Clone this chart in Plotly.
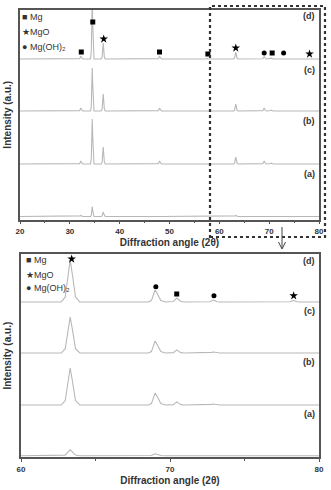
import plotly.graph_objects as go

W, H = 331, 490

# ---------------- data ----------------
# Top panel: 2theta 20-80, peak positions and heights (a.u.) per sample
top_peak_pos = [32.2, 34.5, 36.7, 48.0, 57.5, 63.3, 69.0, 70.4, 72.8, 78.2]
top_a = [1.0, 10.0, 4.5, 0.6, 0.0, 1.0, 0.6, 0.0, 0.0, 0.0]
top_b = [3.0, 45.0, 17.0, 3.0, 0.6, 7.0, 3.0, 0.8, 0.0, 0.0]
top_c = [3.0, 43.0, 17.0, 3.0, 0.6, 7.0, 3.0, 0.8, 0.0, 0.0]
top_d = [3.0, 60.0, 16.0, 3.0, 1.0, 7.0, 2.5, 1.0, 0.5, 0.5]

# Bottom panel: 2theta 60-80 (zoom)
bot_peak_pos = [63.3, 69.0, 70.45, 72.9, 78.3]
bot_a = [6.0, 2.0, 0.5, 0.0, 0.0]
bot_b = [37.0, 12.0, 3.0, 1.0, 0.5]
bot_c = [36.0, 12.0, 3.0, 1.0, 0.5]
bot_d = [42.0, 12.0, 4.0, 2.0, 1.5]

sample_labels = ["(a)", "(b)", "(c)", "(d)"]
legend_labels = ["■ Mg", "★MgO", "● Mg(OH)₂"]

# phase markers (2theta, height in panel units)
top_mg_x = [32.3, 34.6, 48.0, 57.7, 70.6]
top_mg_y = [167.5, 197.5, 167.5, 165.5, 166.5]
top_mgo_x = [36.8, 63.3, 78.1]
top_mgo_y = [180.5, 171.5, 165.5]
top_mgoh_x = [69.0, 72.9]
top_mgoh_y = [166.5, 166.5]

bot_mg_x = [70.45]
bot_mg_y = [163.3]
bot_mgo_x = [63.4, 78.3]
bot_mgo_y = [198.3, 161.6]
bot_mgoh_x = [69.05, 72.95]
bot_mgoh_y = [170.6, 161.6]

x_ticks_top = [20, 30, 40, 50, 60, 70, 80]
x_ticks_bot = [60, 70, 80]

x_title = "Diffraction angle (2θ)"
y_title = "Intensity (a.u.)"

# ---------------- styling / layout ----------------
top_offsets = [3.0, 55.5, 108.5, 160.5]
bot_offsets = [1.5, 52.3, 104.3, 155.3]
top_half_w = [0.4, 0.35, 0.4, 0.4, 0.3, 0.45, 0.5, 0.4, 0.4, 0.4]
bot_half_w = [(0.6, 0.65), (0.45, 0.7), (0.4, 0.5), (0.4, 0.45), (0.4, 0.4)]

LINE = "#b8b8b8"
AX = "#555555"
TXT = "#333333"
FONT = "Liberation Sans"

shape_off = [-1.0, -0.55, -0.25, 0.0, 0.25, 0.55, 1.0]
shape_frac = [0.0, 0.12, 0.62, 1.0, 0.62, 0.12, 0.0]


def build(xmin, xmax, pos, heights, widths, base):
    xs, ys = [xmin], [base]
    for c, h, w in zip(pos, heights, widths):
        if h <= 0:
            continue
        wl, wr = (w, w) if not isinstance(w, tuple) else w
        for o, f in zip(shape_off, shape_frac):
            xs.append(c + o * (wl if o < 0 else wr))
            ys.append(base + f * h)
    xs.append(xmax)
    ys.append(base)
    return xs, ys


fig = go.Figure()

for ints, off in zip([top_a, top_b, top_c, top_d], top_offsets):
    xs, ys = build(20, 80, top_peak_pos, ints, top_half_w, off)
    fig.add_trace(go.Scatter(x=xs, y=ys, mode="lines", line=dict(color=LINE, width=1.1),
                             xaxis="x", yaxis="y", showlegend=False, hoverinfo="skip"))

for ints, off in zip([bot_a, bot_b, bot_c, bot_d], bot_offsets):
    xs, ys = build(60, 80, bot_peak_pos, ints, bot_half_w, off)
    fig.add_trace(go.Scatter(x=xs, y=ys, mode="lines", line=dict(color=LINE, width=1.1),
                             xaxis="x2", yaxis="y2", showlegend=False, hoverinfo="skip"))


def markers(x, y, sym, size, xa, ya):
    fig.add_trace(go.Scatter(x=x, y=y, mode="markers", xaxis=xa, yaxis=ya,
                             marker=dict(symbol=sym, size=size, color="black", line=dict(width=0)),
                             showlegend=False, hoverinfo="skip", cliponaxis=False))


markers(top_mg_x, top_mg_y, "square", 5, "x", "y")
markers(top_mgo_x, top_mgo_y, "star", 6.5, "x", "y")
markers(top_mgoh_x, top_mgoh_y, "circle", 5, "x", "y")
markers(bot_mg_x, bot_mg_y, "square", 5, "x2", "y2")
markers(bot_mgo_x, bot_mgo_y, "star", 6.5, "x2", "y2")
markers(bot_mgoh_x, bot_mgoh_y, "circle", 5, "x2", "y2")


def px(x):
    return x / W


def py(y):
    return 1 - y / H


top_dom_x = [px(20), px(319)]
top_dom_y = [py(219.5), py(10)]
bot_dom_x = [px(21), px(319)]
bot_dom_y = [py(457.3), py(254)]

axis_common = dict(showline=True, mirror=True, linecolor=AX, linewidth=1.5,
                   showgrid=False, zeroline=False, automargin=False)
title_font = dict(size=10, family=FONT, color=TXT, weight="bold")
tick_font = dict(size=8, family=FONT, color=TXT, weight="bold")

fig.update_layout(
    width=W, height=H, margin=dict(l=0, r=0, t=0, b=0),
    paper_bgcolor="white", plot_bgcolor="white",
    font=dict(family=FONT, color=TXT),
    xaxis=dict(domain=top_dom_x, range=[20, 80], anchor="y",
               tickvals=x_ticks_top, ticks="outside", ticklen=3, tickcolor=AX,
               tickfont=tick_font,
               minor=dict(dtick=5, tick0=20, ticks="outside", ticklen=2, tickcolor=AX),
               title=dict(text=x_title, font=title_font, standoff=4),
               **axis_common),
    yaxis=dict(domain=top_dom_y, range=[0, 209.5], anchor="x", showticklabels=False,
               ticks="", title=dict(text=y_title, font=title_font, standoff=5),
               **axis_common),
    xaxis2=dict(domain=bot_dom_x, range=[60, 80], anchor="y2",
                tickvals=x_ticks_bot, ticks="outside", ticklen=3, tickcolor=AX,
                tickfont=tick_font,
                minor=dict(dtick=5, tick0=60, ticks="outside", ticklen=2, tickcolor=AX),
                title=dict(text=x_title, font=title_font, standoff=4),
                **axis_common),
    yaxis2=dict(domain=bot_dom_y, range=[0, 203.3], anchor="x2", showticklabels=False,
                ticks="", title=dict(text=y_title, font=title_font, standoff=6),
                **axis_common),
)

ann = []


def text(x, y, s, size=9, bold=False, xanchor="left"):
    ann.append(dict(x=px(x), y=py(y), xref="paper", yref="paper", text=s, showarrow=False,
                    xanchor=xanchor, yanchor="middle",
                    font=dict(size=size, family=FONT, color=TXT,
                              weight="bold" if bold else "normal")))


# panel labels
for lab, y in zip(sample_labels, [174, 120.7, 70, 15.7]):
    text(317, y, lab, size=9, bold=True, xanchor="right")
for lab, y in zip(sample_labels, [414, 362.3, 311, 260.7]):
    text(317, y, lab, size=9, bold=True, xanchor="right")

# legends
for (ys, xs) in [((17.3, 31.7, 46.7), 19.5), ((260, 275, 288.3), 23.5)]:
    for lab, yy in zip(legend_labels, ys):
        text(xs, yy, lab, size=9)

fig.update_layout(annotations=ann)

# dotted zoom box
fig.add_shape(type="rect", xref="paper", yref="paper",
              x0=px(210), x1=px(325), y0=py(237), y1=py(6),
              line=dict(color="#333333", width=2.2, dash="dot"))

# arrow pointing to the zoomed panel
fig.add_shape(type="line", xref="paper", yref="paper",
              x0=px(282), x1=px(282), y0=py(227), y1=py(248),
              line=dict(color="#444444", width=1))
fig.add_shape(type="path", xref="paper", yref="paper",
              path=f"M {px(278.5)} {py(242)} L {px(282)} {py(249)} L {px(285.5)} {py(242)}",
              line=dict(color="#444444", width=1))

fig.write_html("out.html")
